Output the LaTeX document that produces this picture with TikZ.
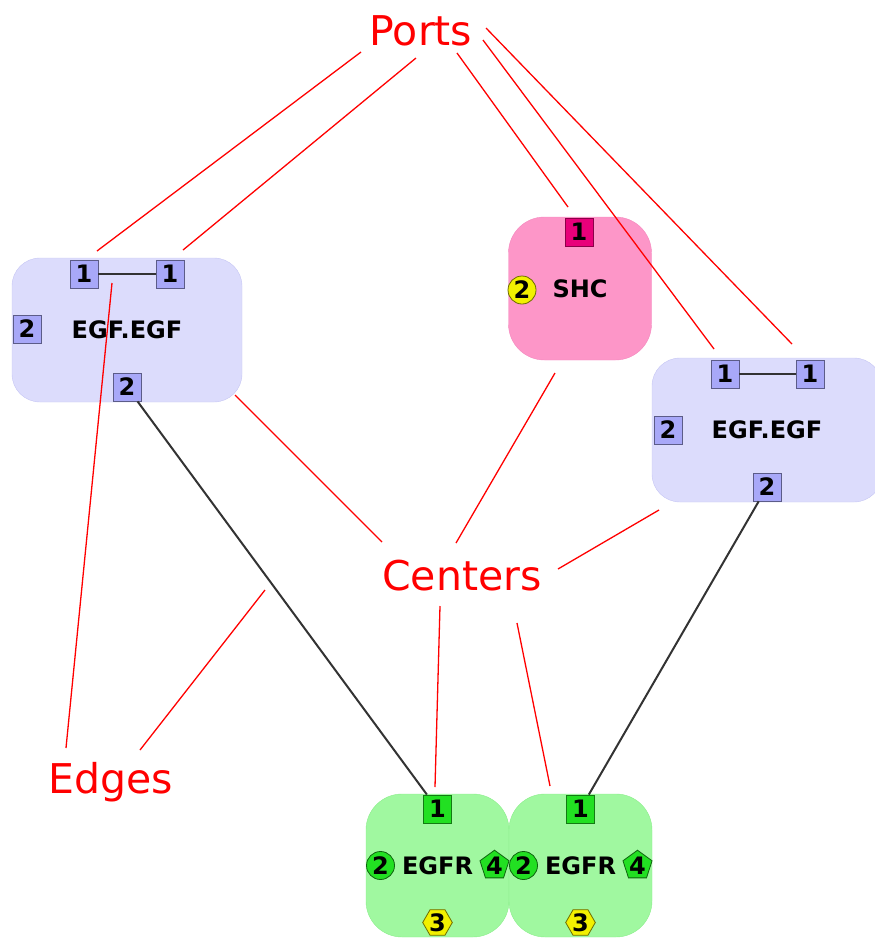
\documentclass[tikz,border=0pt]{standalone}
\usepackage{fontspec}
\setmainfont{DejaVu Sans}
\usetikzlibrary{shapes.geometric, positioning}
\definecolor{lavfill}{HTML}{DCDCFC}
\definecolor{lavline}{HTML}{C6C6F4}
\definecolor{lavport}{HTML}{A8A8F8}
\definecolor{pinkfill}{HTML}{FD96C8}
\definecolor{pinkline}{HTML}{F488BE}
\definecolor{pinkport}{HTML}{E8007A}
\definecolor{greenfill}{HTML}{A0F8A0}
\definecolor{greenline}{HTML}{8AEE8A}
\definecolor{greenport}{HTML}{22E022}
\definecolor{yellowport}{HTML}{F2F000}
\tikzstyle{complex} = [rectangle, rounded corners=28pt, minimum width=230pt, minimum height=144pt,
    draw=lavline, fill=lavfill, font=\fontsize{24}{24}\selectfont\bfseries]
\tikzstyle{agent} = [rectangle, rounded corners=36pt, minimum width=143pt, minimum height=143pt,
    font=\fontsize{24}{24}\selectfont\bfseries]
\tikzstyle{shcbox} = [agent, draw=pinkline, fill=pinkfill]
\tikzstyle{egfrbox} = [agent, draw=greenline, fill=greenfill]
\tikzstyle{port} = [inner sep=0pt, line width=0.8pt, font=\fontsize{24}{24}\selectfont\bfseries]
\tikzstyle{sqport} = [port, rectangle, minimum size=28pt]
\tikzstyle{rdport} = [port, circle, minimum size=28pt]
\tikzstyle{pentport} = [port, regular polygon, regular polygon sides=5, minimum size=29pt]
\tikzstyle{hexport} = [port, regular polygon, regular polygon sides=6, minimum size=28pt]
\tikzstyle{lavsq} = [sqport, draw=lavport!55!black, fill=lavport]
\tikzstyle{callout} = [text=red, anchor=base, font=\fontsize{41}{41}\selectfont]
\tikzstyle{pointer} = [red, line width=1.3pt]
\tikzstyle{edge} = [black!80, line width=2pt]
\tikzstyle{bond} = [black!80, line width=1.5pt]

\begin{document}
\begin{tikzpicture}[x=1pt, y=-1pt]
  \useasboundingbox (0,0) rectangle (875,938);
  \clip (0,0) rectangle (875,938);

  \node (lcplx) [complex] at (127,330) {EGF.EGF};
  \node (rcplx) [complex] at (767,430) {EGF.EGF};
  \node (shc)   [shcbox] at (580,288.5) {SHC};
  \node (egfrA) [egfrbox] at (437.5,865.5) {EGFR};
  \node (egfrB) [egfrbox] at (580.5,865.5) {EGFR};

  \node (l1a) [lavsq] at ([shift={(-43,-56)}]lcplx.center) {1};
  \node (l1b) [lavsq] at ([shift={(43,-56)}]lcplx.center) {1};
  \node (l2s) [lavsq] at ([shift={(-100,-1)}]lcplx.center) {2};
  \node (l2b) [lavsq] at ([shift={(0,57)}]lcplx.center) {2};
  \node (r1a) [lavsq] at ([shift={(-42,-56)}]rcplx.center) {1};
  \node (r1b) [lavsq] at ([shift={(43,-56)}]rcplx.center) {1};
  \node (r2s) [lavsq] at ([shift={(-99,0)}]rcplx.center) {2};
  \node (r2b) [lavsq] at ([shift={(0,57)}]rcplx.center) {2};

  \node (s1) [sqport, draw=pinkport!60!black, fill=pinkport] at ([shift={(-1,-56.5)}]shc.center) {1};
  \node (s2) [rdport, draw=yellowport!45!black, fill=yellowport] at ([shift={(-58,1.5)}]shc.center) {2};

  \node (a1) [sqport, draw=greenport!55!black, fill=greenport] at ([shift={(0,-56.5)}]egfrA.center) {1};
  \node (a2) [rdport, draw=greenport!45!black, fill=greenport] at ([shift={(-57,0)}]egfrA.center) {2};
  \node (a4) [pentport, draw=greenport!45!black, fill=greenport] at ([shift={(57,0)}]egfrA.center) {4};
  \node (a3) [hexport, draw=yellowport!45!black, fill=yellowport] at ([shift={(0,57)}]egfrA.center) {3};
  \node (b1) [sqport, draw=greenport!55!black, fill=greenport] at ([shift={(0,-56.5)}]egfrB.center) {1};
  \node (b2) [rdport, draw=greenport!45!black, fill=greenport] at ([shift={(-57,0)}]egfrB.center) {2};
  \node (b4) [pentport, draw=greenport!45!black, fill=greenport] at ([shift={(57,0)}]egfrB.center) {4};
  \node (b3) [hexport, draw=yellowport!45!black, fill=yellowport] at ([shift={(0,57)}]egfrB.center) {3};

  \draw[bond] (l1a) -- (l1b);
  \draw[bond] (r1a) -- (r1b);
  \draw[edge] (l2b) -- (a1);
  \draw[edge] (r2b) -- (b1);

  \node (ports)   [callout] at (421,45) {Ports};
  \node (centers) [callout] at (462,590) {Centers};
  \node (edges)   [callout] at (111,793) {Edges};

  % free ends of the red pointers
  \coordinate (pl1a) at (361,52);  \coordinate (tl1a) at (97,251);
  \coordinate (pl1b) at (416,58);  \coordinate (tl1b) at (183,250);
  \coordinate (ps1)  at (457,53);  \coordinate (ts1)  at (568,207);
  \coordinate (pr1a) at (483,40);  \coordinate (tr1a) at (714,349);
  \coordinate (pr1b) at (486,28);  \coordinate (tr1b) at (792,344);
  \coordinate (cl)   at (382,542); \coordinate (tcl)  at (235,395);
  \coordinate (cs)   at (456,543); \coordinate (tcs)  at (555,373);
  \coordinate (cr)   at (558,569); \coordinate (tcr)  at (659,510);
  \coordinate (ca)   at (440,606); \coordinate (tca)  at (435,787);
  \coordinate (cb)   at (517,623); \coordinate (tcb)  at (550,786);
  \coordinate (eb)   at (66,748);  \coordinate (teb)  at (112,283);
  \coordinate (ee)   at (140,750); \coordinate (tee)  at (265,590);

  \draw[pointer] (pl1a) -- (tl1a);
  \draw[pointer] (pl1b) -- (tl1b);
  \draw[pointer] (ps1)  -- (ts1);
  \draw[pointer] (pr1a) -- (tr1a);
  \draw[pointer] (pr1b) -- (tr1b);
  \draw[pointer] (cl) -- (tcl);
  \draw[pointer] (cs) -- (tcs);
  \draw[pointer] (cr) -- (tcr);
  \draw[pointer] (ca) -- (tca);
  \draw[pointer] (cb) -- (tcb);
  \draw[pointer] (eb) -- (teb);
  \draw[pointer] (ee) -- (tee);
\end{tikzpicture}
\end{document}
